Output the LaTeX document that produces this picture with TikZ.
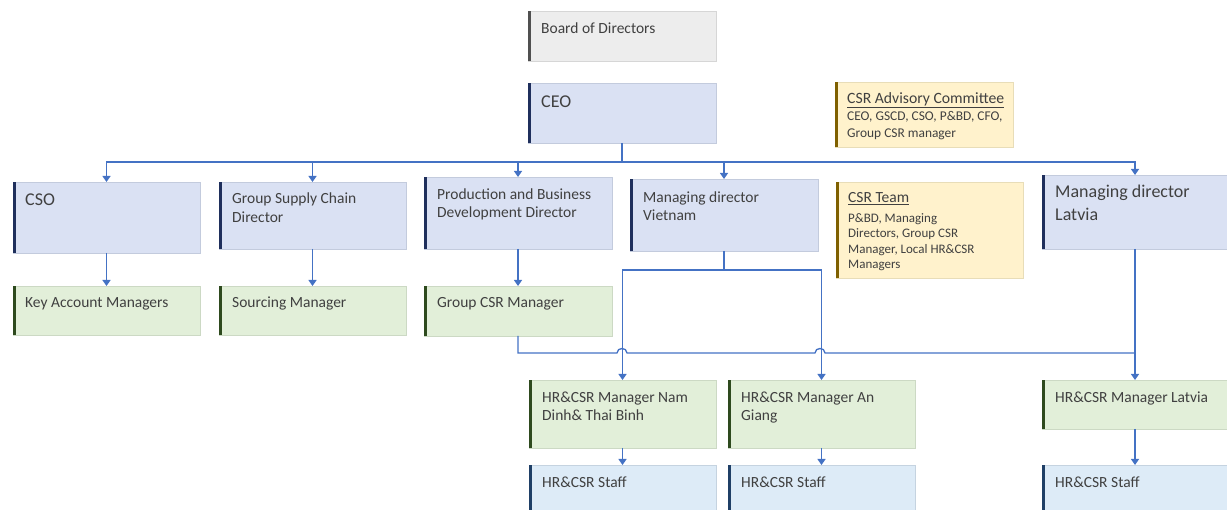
\documentclass[tikz,border=0pt]{standalone}
\usepackage{fontspec}
\setmainfont{Carlito}
\usetikzlibrary{arrows.meta}
\definecolor{bluefill}{HTML}{DAE1F3}
\definecolor{blueedge}{HTML}{C3CBDD}
\definecolor{bluebar}{HTML}{1F2F5C}
\definecolor{grayfill}{HTML}{EDEDED}
\definecolor{grayedge}{HTML}{D6D6D6}
\definecolor{graybar}{HTML}{505050}
\definecolor{yelfill}{HTML}{FFF2CC}
\definecolor{yeledge}{HTML}{E8DDB8}
\definecolor{yelbar}{HTML}{7F6000}
\definecolor{grnfill}{HTML}{E2EFD9}
\definecolor{grnedge}{HTML}{CCD9C4}
\definecolor{grnbar}{HTML}{2E4A1E}
\definecolor{stfill}{HTML}{DDEBF7}
\definecolor{stedge}{HTML}{C5D3E0}
\definecolor{stbar}{HTML}{1F3F66}
\definecolor{conncol}{HTML}{4472C4}
\definecolor{txtcol}{HTML}{404040}
\newcommand{\orgbox}[7]{%
  \node[#2, anchor=north west, minimum width=#6pt, minimum height=#7pt] (#1) at (#4,#5) {};
  \fill[#3] (#1.north west) rectangle ([xshift=3pt]#1.south west);
}
\begin{document}
\begin{tikzpicture}[x=1pt,y=-1pt,
  boxbase/.style={rectangle, inner sep=0pt, outer sep=0pt, line width=0.7pt},
  bluebox/.style={boxbase, fill=bluefill, draw=blueedge},
  graybox/.style={boxbase, fill=grayfill, draw=grayedge},
  yelbox/.style={boxbase, fill=yelfill, draw=yeledge},
  grnbox/.style={boxbase, fill=grnfill, draw=grnedge},
  stbox/.style={boxbase, fill=stfill, draw=stedge},
  txt/.style={anchor=north west, inner sep=0pt, align=left, text=txtcol},
  big/.style={txt, font=\fontsize{18}{22}\selectfont},
  mid/.style={txt, font=\fontsize{15.5}{18}\selectfont},
  small/.style={txt, font=\fontsize{13}{15.5}\selectfont},
  conn/.style={draw=conncol, line width=1.3pt},
  arr/.style={conn, -{Triangle[width=8pt,length=6pt]}}
]
\useasboundingbox (0,0) rectangle (1227,510);

% boxes
\orgbox{board}{graybox}{graybar}{528}{11}{188}{50}
\orgbox{ceo}{bluebox}{bluebar}{528}{83}{188}{60}
\orgbox{adv}{yelbox}{yelbar}{835}{82}{178}{65}
\orgbox{cso}{bluebox}{bluebar}{13}{182}{187}{71}
\orgbox{gscd}{bluebox}{bluebar}{219}{182}{187}{67}
\orgbox{pbd}{bluebox}{bluebar}{424}{177}{188}{72}
\orgbox{mdv}{bluebox}{bluebar}{630}{179}{188}{72}
\orgbox{team}{yelbox}{yelbar}{836}{182}{187}{96}
\orgbox{mdl}{bluebox}{bluebar}{1042}{175}{186}{74}
\orgbox{kam}{grnbox}{grnbar}{13}{286}{187}{49}
\orgbox{src}{grnbox}{grnbar}{219}{286}{187}{49}
\orgbox{gcsr}{grnbox}{grnbar}{424}{286}{188}{50}
\orgbox{hra}{grnbox}{grnbar}{529}{380}{187}{68}
\orgbox{hrb}{grnbox}{grnbar}{728}{380}{187}{68}
\orgbox{hrl}{grnbox}{grnbar}{1042}{380}{186}{49}
\orgbox{sta}{stbox}{stbar}{529}{465}{187}{46}
\orgbox{stb}{stbox}{stbar}{728}{465}{187}{46}
\orgbox{stl}{stbox}{stbar}{1042}{465}{186}{46}

% texts
\node[txt, font=\fontsize{15.5}{18}\selectfont] (board-t) at ([xshift=13pt,yshift=-9.4pt]board.north west) {\strut Board of Directors};
\node[big] (ceo-t) at ([xshift=13pt,yshift=-8.6pt]ceo.north west) {\strut CEO};
\node[txt, font=\fontsize{15.7}{18}\selectfont] (adv-t) at ([xshift=12pt,yshift=-8.4pt]adv.north west) {\strut\underline{CSR Advisory Committee}};
\node[txt, font=\fontsize{13.4}{17.5}\selectfont] (adv-b) at ([xshift=12pt,yshift=-25.7pt]adv.north west) {\strut CEO, GSCD, CSO, P\&BD, CFO,\\Group CSR manager};
\node[big] (cso-t) at ([xshift=12pt,yshift=-7.6pt]cso.north west) {\strut CSO};
\node[txt, font=\fontsize{15.5}{19}\selectfont] (gscd-t) at ([xshift=13pt,yshift=-7.7pt]gscd.north west) {\strut Group Supply Chain\\Director};
\node[mid] (pbd-t) at ([xshift=13pt,yshift=-9.4pt]pbd.north west) {\strut Production and Business\\Development Director};
\node[mid] (mdv-t) at ([xshift=13pt,yshift=-10.4pt]mdv.north west) {\strut Managing director\\Vietnam};
\node[txt, font=\fontsize{15.5}{18}\selectfont] (team-t) at ([xshift=12pt,yshift=-7.4pt]team.north west) {\strut\underline{CSR Team}};
\node[small] (team-b) at ([xshift=12pt,yshift=-29.2pt]team.north west) {\strut P\&BD, Managing\\Directors, Group CSR\\Manager, Local HR\&CSR\\Managers};
\node[txt, font=\fontsize{18}{23}\selectfont] (mdl-t) at ([xshift=13pt,yshift=-5.9pt]mdl.north west) {\strut Managing director\\Latvia};
\node[mid] (kam-t) at ([xshift=12pt,yshift=-8.4pt]kam.north west) {\strut Key Account Managers};
\node[mid] (src-t) at ([xshift=13pt,yshift=-8.4pt]src.north west) {\strut Sourcing Manager};
\node[mid] (gcsr-t) at ([xshift=13pt,yshift=-8.4pt]gcsr.north west) {\strut Group CSR Manager};
\node[mid] (hra-t) at ([xshift=13pt,yshift=-9.4pt]hra.north west) {\strut HR\&CSR Manager Nam\\Dinh\& Thai Binh};
\node[mid] (hrb-t) at ([xshift=13pt,yshift=-9.4pt]hrb.north west) {\strut HR\&CSR Manager An\\Giang};
\node[mid] (hrl-t) at ([xshift=13pt,yshift=-9.4pt]hrl.north west) {\strut HR\&CSR Manager Latvia};
\node[mid] (sta-t) at ([xshift=13pt,yshift=-9.4pt]sta.north west) {\strut HR\&CSR Staff};
\node[mid] (stb-t) at ([xshift=13pt,yshift=-9.4pt]stb.north west) {\strut HR\&CSR Staff};
\node[mid] (stl-t) at ([xshift=13pt,yshift=-9.4pt]stl.north west) {\strut HR\&CSR Staff};

% connectors
\coordinate (bus) at (622,162);
\draw[conn] (ceo.south) -- (bus);
\draw[arr] (bus) -| (cso.north);
\draw[arr] (bus) -| (gscd.north);
\draw[arr] (bus) -| (pbd.north);
\draw[arr] (bus) -| (mdv.north);
\draw[arr] (bus) -| (mdl.north);
\draw[arr] (cso.south) -- (kam.north);
\draw[arr] (gscd.south) -- (src.north);
\draw[arr] (pbd.south) -- (gcsr.north);
\coordinate (vn) at (724,270);
\draw[conn] (mdv.south) -- (vn);
\draw[arr] (vn) -| (hra.north);
\draw[arr] (vn) -| (hrb.north);
\coordinate (lv) at (1135,353);
\draw[arr] (mdl.south) -- (hrl.north);
\draw[conn] (gcsr.south) |- (617,353) .. controls (617,347) and (627,347) .. (627,353)
  -- (815,353) .. controls (815,347) and (825,347) .. (825,353) -- (lv);
\draw[arr] (hra.south) -- (sta.north);
\draw[arr] (hrb.south) -- (stb.north);
\draw[arr] (hrl.south) -- (stl.north);
\end{tikzpicture}
\end{document}
